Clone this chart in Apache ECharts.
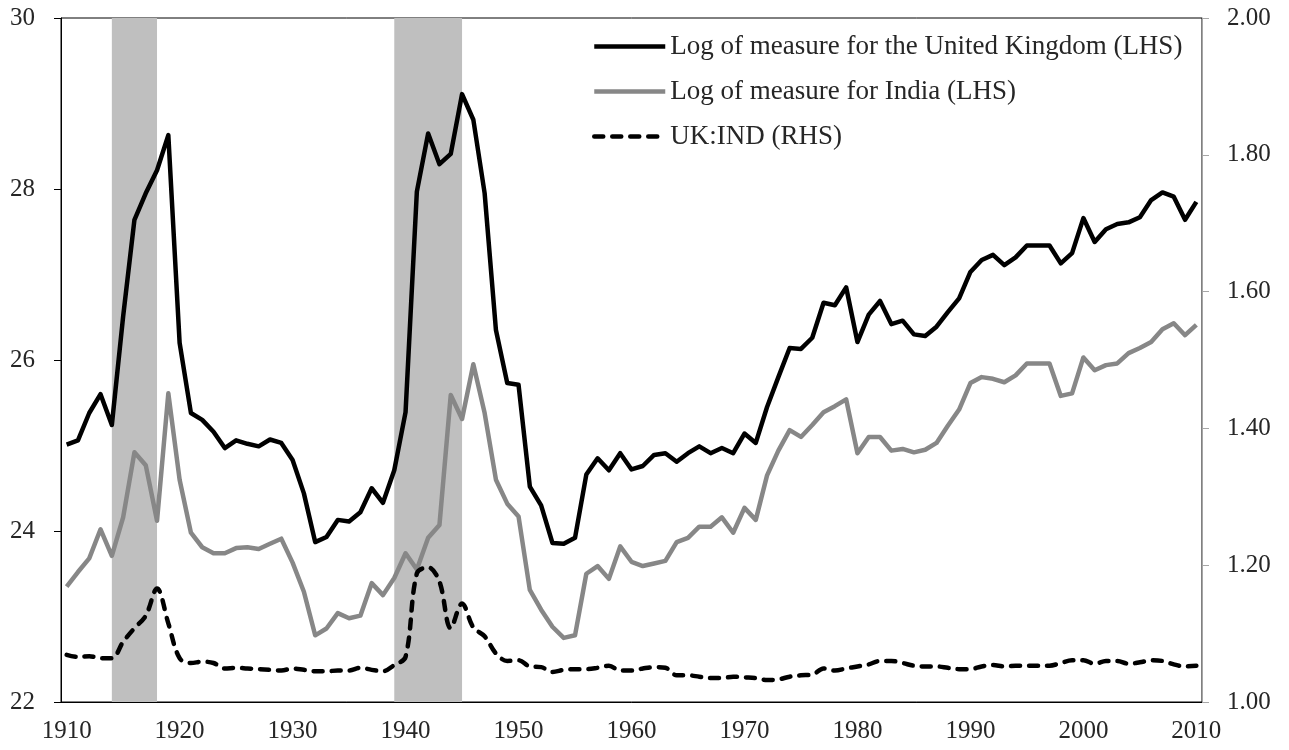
<!DOCTYPE html>
<html>
<head>
<meta charset="utf-8">
<script src="https://cdn.jsdelivr.net/npm/echarts@6/dist/echarts.min.js"></script>
<style>
  html, body { margin: 0; padding: 0; background: #fff; }
  #chart { width: 1289px; height: 750px; }
</style>
</head>
<body>
<div id="chart"></div>
<script>
// years 1910..2010
const years = [];
for (let y = 1910; y <= 2010; y++) years.push(String(y));

// log of measure, United Kingdom (LHS)
const ukLog = [
  25.01, 25.06, 25.38, 25.60, 25.24, 26.51, 27.64, 27.95, 28.22, 28.63,
  26.20, 25.38, 25.30, 25.16, 24.97, 25.06, 25.02, 24.99, 25.07, 25.03,
  24.83, 24.44, 23.87, 23.93, 24.13, 24.11, 24.22, 24.50, 24.33, 24.71,
  25.39, 27.97, 28.65, 28.29, 28.41, 29.11, 28.81, 27.95, 26.35, 25.73,
  25.71, 24.52, 24.30, 23.86, 23.85, 23.92, 24.66, 24.85, 24.71, 24.91,
  24.72, 24.76, 24.89, 24.91, 24.81, 24.91, 24.99, 24.91, 24.97, 24.91,
  25.14, 25.03, 25.45, 25.80, 26.14, 26.13, 26.26, 26.67, 26.64, 26.85,
  26.21, 26.53, 26.69, 26.42, 26.46, 26.30, 26.28, 26.39, 26.56, 26.72,
  27.03, 27.17, 27.23, 27.11, 27.20, 27.34, 27.34, 27.34, 27.13, 27.25,
  27.66, 27.38, 27.53, 27.59, 27.61, 27.67, 27.87, 27.96, 27.91, 27.64,
  27.85
];

// log of measure, India (LHS)
const indiaLog = [
  23.35, 23.52, 23.68, 24.02, 23.71, 24.16, 24.92, 24.77, 24.12, 25.61,
  24.60, 23.98, 23.81, 23.74, 23.74, 23.80, 23.81, 23.79, 23.85, 23.91,
  23.63, 23.29, 22.78, 22.86, 23.04, 22.98, 23.01, 23.39, 23.25, 23.45,
  23.74, 23.55, 23.92, 24.07, 25.59, 25.31, 25.95, 25.38, 24.60, 24.32,
  24.17, 23.31, 23.08, 22.88, 22.75, 22.78, 23.50, 23.59, 23.44, 23.82,
  23.64, 23.59, 23.62, 23.65, 23.87, 23.92, 24.05, 24.05, 24.16, 23.98,
  24.27, 24.13, 24.65, 24.94, 25.18, 25.10, 25.24, 25.39, 25.46, 25.54,
  24.91, 25.10, 25.10, 24.94, 24.96, 24.92, 24.95, 25.03, 25.23, 25.42,
  25.73, 25.80, 25.78, 25.74, 25.82, 25.96, 25.96, 25.96, 25.58, 25.61,
  26.03, 25.88, 25.94, 25.96, 26.08, 26.14, 26.21, 26.36, 26.43, 26.29,
  26.41
];

// UK:IND ratio (RHS)
const ukIndRatio = [
  1.069, 1.066, 1.067, 1.064, 1.064, 1.088, 1.108, 1.126, 1.166, 1.115,
  1.064, 1.057, 1.059, 1.057, 1.049, 1.050, 1.049, 1.048, 1.047, 1.046,
  1.049, 1.047, 1.045, 1.045, 1.046, 1.046, 1.050, 1.047, 1.045, 1.054,
  1.066, 1.188, 1.197, 1.176, 1.108, 1.144, 1.109, 1.096, 1.071, 1.060,
  1.061, 1.052, 1.051, 1.044, 1.047, 1.048, 1.048, 1.050, 1.053, 1.046,
  1.046, 1.049, 1.051, 1.050, 1.039, 1.039, 1.037, 1.035, 1.035, 1.037,
  1.036, 1.035, 1.032, 1.033, 1.037, 1.039, 1.040, 1.049, 1.046, 1.049,
  1.052, 1.055, 1.060, 1.060, 1.057, 1.053, 1.052, 1.052, 1.050, 1.048,
  1.048, 1.052, 1.054, 1.052, 1.053, 1.053, 1.053, 1.053, 1.057, 1.061,
  1.061, 1.056, 1.060, 1.060, 1.056, 1.058, 1.061, 1.060, 1.055, 1.052,
  1.053
];

// shaded war periods
const warPeriods = [['1914', '1918'], ['1939', '1945']];

const seriesNames = [
  'Log of measure for the United Kingdom (LHS)',
  'Log of measure for India (LHS)',
  'UK:IND (RHS)'
];

const font = 'Liberation Serif';
const txt = '#262626';

const chart = echarts.init(document.getElementById('chart'));
chart.setOption({
  animation: false,
  backgroundColor: '#fff',
  grid: {
    left: 61, right: 87, top: 18, bottom: 48,
    show: true, borderColor: '#000', borderWidth: 1
  },
  legend: {
    data: seriesNames,
    orient: 'vertical',
    left: 592,
    top: 33,
    padding: 0,
    itemWidth: 71,
    itemHeight: 14,
    itemGap: 18,
    itemStyle: { opacity: 0 },
    lineStyle: { width: 4.5 },
    textStyle: { fontFamily: font, fontSize: 27, color: txt }
  },
  xAxis: {
    type: 'category',
    data: years,
    boundaryGap: true,
    axisLine: { lineStyle: { color: '#000', width: 1 } },
    axisTick: { inside: true, length: 7, interval: 9, alignWithLabel: false, lineStyle: { color: '#000' } },
    axisLabel: { interval: 9, margin: 17, fontFamily: font, fontSize: 25, color: txt },
    splitLine: { show: false }
  },
  yAxis: [
    {
      type: 'value', min: 22, max: 30, interval: 2,
      axisLine: { show: true, lineStyle: { color: '#000' } },
      axisTick: { show: true, length: 7, lineStyle: { color: '#000' } },
      axisLabel: { margin: 26, fontFamily: font, fontSize: 25, color: txt },
      splitLine: { show: false }
    },
    {
      type: 'value', min: 1, max: 2, interval: 0.2, position: 'right',
      axisLine: { show: true, lineStyle: { color: '#a6a6a6' } },
      axisTick: { show: true, length: 7, lineStyle: { color: '#a6a6a6' } },
      axisLabel: { margin: 25, fontFamily: font, fontSize: 25, color: txt, formatter: v => v.toFixed(2) },
      splitLine: { show: false }
    }
  ],
  series: [
    {
      name: 'wars',
      type: 'line',
      data: [],
      z: 1,
      silent: true,
      markArea: {
        silent: true,
        itemStyle: { color: '#bfbfbf' },
        data: warPeriods.map(p => [{ xAxis: p[0] }, { xAxis: p[1] }])
      }
    },
    {
      name: seriesNames[0],
      type: 'line',
      data: ukLog,
      yAxisIndex: 0,
      symbol: 'none',
      z: 5,
      lineStyle: { color: '#000', width: 4.5, join: 'round' },
      itemStyle: { color: '#000' }
    },
    {
      name: seriesNames[1],
      type: 'line',
      data: indiaLog,
      yAxisIndex: 0,
      symbol: 'none',
      z: 4,
      lineStyle: { color: '#878787', width: 4.5, join: 'round' },
      itemStyle: { color: '#878787' }
    },
    {
      name: seriesNames[2],
      type: 'line',
      data: ukIndRatio,
      yAxisIndex: 1,
      symbol: 'none',
      smooth: 0.35,
      z: 6,
      lineStyle: { color: '#000', width: 4.5, type: [9, 9], cap: 'round' },
      itemStyle: { color: '#000' }
    }
  ]
});
</script>
</body>
</html>
